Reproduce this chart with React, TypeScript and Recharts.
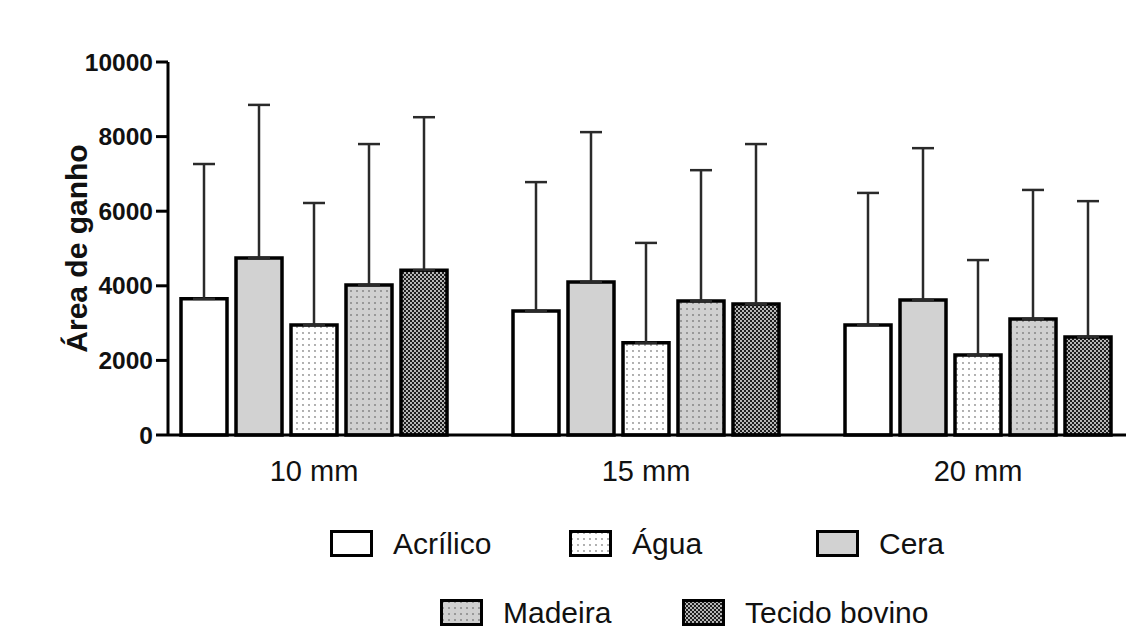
import { BarChart, Bar, XAxis, YAxis, ErrorBar, Label } from "recharts"

const groups = ["10 mm", "15 mm", "20 mm"]

// médias e desvios (só a barra de cima é desenhada)
const acrilico = [3650, 3325, 2950]
const acrilicoSd = [3615, 3455, 3540]
const cera = [4745, 4100, 3620]
const ceraSd = [4105, 4020, 4070]
const agua = [2950, 2470, 2145]
const aguaSd = [3270, 2680, 2545]
const madeira = [4020, 3590, 3110]
const madeiraSd = [3780, 3510, 3460]
const tecido = [4420, 3510, 2630]
const tecidoSd = [4100, 4290, 3640]

const yTicks = [0, 2000, 4000, 6000, 8000, 10000]

const data = groups.map((g, i) => ({
  group: g,
  acrilico: acrilico[i],
  acrilicoErr: [0, acrilicoSd[i]],
  cera: cera[i],
  ceraErr: [0, ceraSd[i]],
  agua: agua[i],
  aguaErr: [0, aguaSd[i]],
  madeira: madeira[i],
  madeiraErr: [0, madeiraSd[i]],
  tecido: tecido[i],
  tecidoErr: [0, tecidoSd[i]],
}))

const series = [
  { key: "acrilico", fill: "#ffffff" },
  { key: "cera", fill: "#d2d2d2" },
  { key: "agua", fill: "url(#pAgua)" },
  { key: "madeira", fill: "url(#pMadeira)" },
  { key: "tecido", fill: "url(#pTecido)" },
]

const legendItems = [
  { label: "Acrílico", fill: "#ffffff", x: 330, y: 544 },
  { label: "Água", fill: "url(#pAgua)", x: 569, y: 544 },
  { label: "Cera", fill: "#d2d2d2", x: 816, y: 544 },
  { label: "Madeira", fill: "url(#pMadeira)", x: 440, y: 613 },
  { label: "Tecido bovino", fill: "url(#pTecido)", x: 682, y: 613 },
]

const font = "'Liberation Sans', Arial, sans-serif"

export default function App() {
  return (
    <div style={{ position: "absolute", left: 0, top: 0, width: 1126, height: 642, background: "#fff", fontFamily: font }}>
      <BarChart
        width={1126}
        height={642}
        data={data}
        margin={{ top: 62, right: 0, bottom: 147, left: 0 }}
        barSize={46}
        barGap={9}
      >
        <defs>
          <pattern id="pAgua" width="6" height="6" patternUnits="userSpaceOnUse">
            <rect width="6" height="6" fill="#ffffff" />
            <circle cx="3" cy="3" r="0.9" fill="#8c8c8c" />
          </pattern>
          <pattern id="pMadeira" width="6" height="6" patternUnits="userSpaceOnUse">
            <rect width="6" height="6" fill="#d0d0d0" />
            <circle cx="3" cy="3" r="1" fill="#858585" />
          </pattern>
          <pattern id="pTecido" width="4" height="4" patternUnits="userSpaceOnUse">
            <rect width="4" height="4" fill="#1e1e1e" />
            <circle cx="1" cy="1" r="0.9" fill="#ffffff" />
            <circle cx="3" cy="3" r="0.9" fill="#ffffff" />
          </pattern>
        </defs>
        <XAxis
          dataKey="group"
          height={60}
          padding={{ left: -20, right: -18 }}
          axisLine={{ stroke: "#000", strokeWidth: 3 }}
          tickLine={false}
          tickSize={0}
          tickMargin={25}
          tick={{ fill: "#111", fontSize: 29, fontFamily: font }}
        />
        <YAxis
          width={168}
          domain={[0, 10000]}
          ticks={yTicks}
          interval={0}
          axisLine={{ stroke: "#000", strokeWidth: 3 }}
          tickLine={{ stroke: "#000", strokeWidth: 3 }}
          tickSize={12}
          tickMargin={3}
          tick={{ fill: "#111", fontSize: 24.5, fontWeight: "bold", fontFamily: font }}
        >
          <Label
            value="Área de ganho"
            angle={-90}
            position="center"
            dx={-8}
            style={{ fill: "#111", fontSize: 30, fontWeight: "bold", fontFamily: font }}
          />
        </YAxis>
        {series.map((s) => (
          <Bar key={s.key} dataKey={s.key} fill={s.fill} stroke="#000" strokeWidth={3.5} isAnimationActive={false}>
            <ErrorBar dataKey={`${s.key}Err`} width={11} strokeWidth={2.5} stroke="#2a2a2a" direction="y" />
          </Bar>
        ))}
      </BarChart>
      {legendItems.map((it) => (
        <div
          key={it.label}
          style={{
            position: "absolute",
            left: it.x,
            top: it.y - 18,
            height: 36,
            display: "flex",
            alignItems: "center",
            fontSize: 30,
            color: "#111",
            whiteSpace: "nowrap",
          }}
        >
          <svg width={44} height={28} style={{ marginRight: 19 }}>
            <rect x={1.5} y={1.5} width={40} height={24} fill={it.fill} stroke="#000" strokeWidth={3} />
          </svg>
          {it.label}
        </div>
      ))}
    </div>
  )
}
